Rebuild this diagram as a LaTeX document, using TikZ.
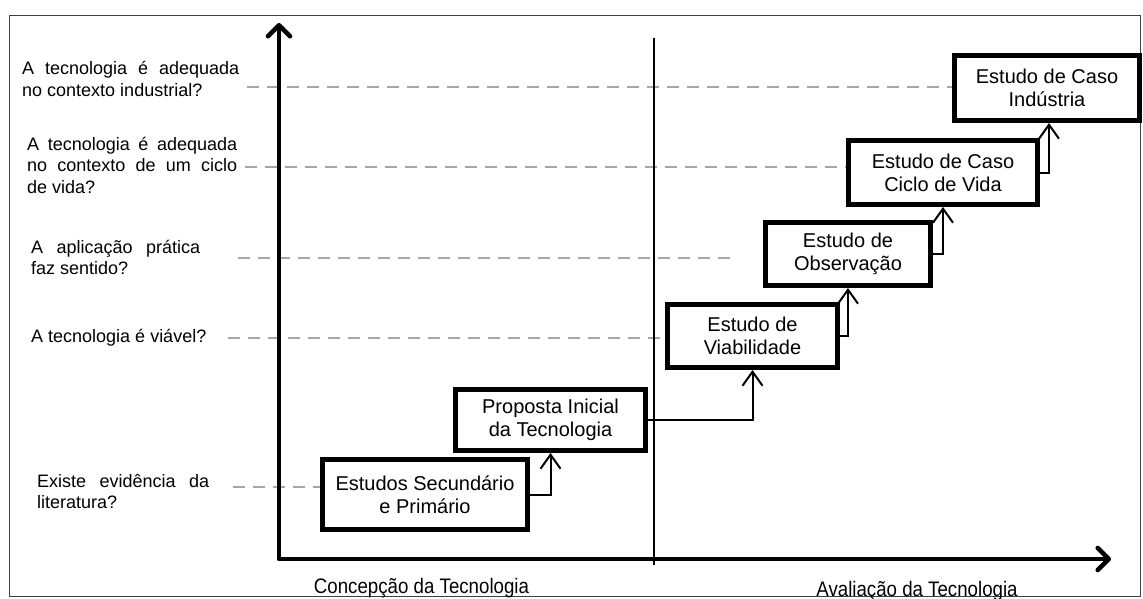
\documentclass[tikz,border=0pt]{standalone}
\usepackage{fontspec}
\setmainfont{Liberation Sans}
\newfontfamily\narrowsans{Liberation Sans}[FakeStretch=0.89]
\usetikzlibrary{arrows.meta}
\definecolor{guidegray}{HTML}{A6A6A6}
\definecolor{shadowgray}{HTML}{A0A0A0}
\hyphenpenalty=10000
\exhyphenpenalty=10000
\tolerance=10000
\begin{document}
\begin{tikzpicture}[x=1pt,y=-1pt,
  stage/.style={draw, fill=white, line width=5pt, inner sep=0pt, align=center,
    font=\fontsize{20}{23}\selectfont},
  question/.style={anchor=base west, inner sep=0pt, font=\fontsize{18}{21.5}\selectfont},
  qblock/.style={question, align=justify, text width=#1,
    execute at begin node={\spaceskip=5pt plus 12pt\relax}},
  guide/.style={draw=guidegray, line width=2pt, dash pattern=on 12pt off 8pt},
  link/.style={line width=2pt, -{Straight Barb[length=14pt,width=20pt]}},
  axisline/.style={line width=4.5pt, line cap=round, line join=round,
    {Straight Barb[length=11pt,width=22pt,round]}-{Straight Barb[length=11pt,width=22pt,round]}},
  phase/.style={font=\narrowsans\fontsize{21}{24}\selectfont, inner sep=0pt, anchor=base}
]
\useasboundingbox (0,0) rectangle (1143,599);

% frame
\draw[black!75, line width=1pt] (9,16) rectangle (1140,596);

% stages
\node[stage, minimum width=205, minimum height=70] (b1) at (425,494.5) {Estudos Secundário\\e Primário};
\node[stage, minimum width=190, minimum height=61] (b2) at (550.5,420) {Proposta Inicial\\da Tecnologia};
\node[stage, minimum width=170, minimum height=63] (b3) at (752.5,336) {Estudo de\\Viabilidade};
\node[stage, minimum width=165, minimum height=63] (b4) at (848,254) {Estudo de\\Observação};
\node[stage, minimum width=189, minimum height=64] (b5) at (943,172.5) {Estudo de Caso\\Ciclo de Vida};
\node[stage, minimum width=185, minimum height=65] (b6) at (1047,88) {Estudo de Caso\\Indústria};

% guide lines from the questions
\coordinate (g1) at (247,87);
\coordinate (g2) at (245,167);
\coordinate (g3) at (238,258);
\coordinate (g3e) at (735,258);
\coordinate (g4) at (228,338);
\coordinate (g5) at (233,487);
\draw[guide] (g1) -- (g1 -| b6.west);
\draw[guide] (g2) -- (g2 -| b5.west);
\draw[guide] (g3) -- (g3e);
\draw[guide] (g4) -- (g4 -| b3.west);
\draw[guide] (g5) -- (g5 -| b1.west);

% divider between the two phases
\coordinate (dtop) at (654,38);
\coordinate (dbot) at (654,565);
\draw[line width=1.2pt] (dtop) -- (dbot);

% axes with shadow
\coordinate (ytop) at (279,23);
\coordinate (xend) at (1111,559);
\draw[axisline, shadowgray, shift={(1.5,3)}] (ytop) |- (xend);
\draw[axisline] (ytop) |- (xend);

% links between stages
\draw[link] (b1.east) -| (b2.south);
\draw[link] (b2.east) -| (b3.south);
\draw[link] (b3.east) -| (b4.south);
\draw[link] (b4.east) -| (b5.south);
\draw[link] (b5.east) -| ([xshift=2]b6.south);

% questions
\node[qblock=217] (q1) at (22,75) {A tecnologia é adequada no contexto industrial?};
\node[qblock=210] (q2) at (27,150) {A tecnologia é adequada no contexto de um ciclo de vida?};
\node[qblock=169] (q3) at (31,253) {A aplicação prática faz sentido?};
\node[question] (q4) at (31,342) {A tecnologia é viável?};
\node[qblock=172] (q5) at (37,487) {Existe evidência da literatura?};

% phase labels
\node[phase] (p1) at (421.5,593) {Concepção da Tecnologia};
\node[phase] (p2) at (917,596) {Avaliação da Tecnologia};
\end{tikzpicture}
\end{document}
